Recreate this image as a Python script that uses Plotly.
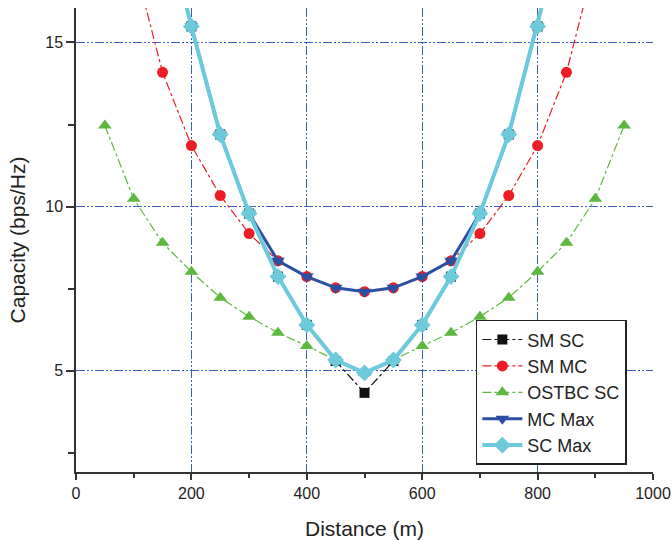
import plotly.graph_objects as go

distance = [50, 100, 150, 200, 250, 300, 350, 400, 450, 500, 550, 600, 650, 700, 750, 800, 850, 900, 950]

sm_sc = [None, None, 19.0, 15.49, 12.2, 9.79, 7.87, 6.40, 5.30, 4.33, 5.30, 6.40, 7.87, 9.79, 12.2, 15.49, 19.0, None, None]
sm_mc = [None, 17.5, 14.09, 11.86, 10.34, 9.18, 8.35, 7.87, 7.53, 7.41, 7.53, 7.87, 8.35, 9.18, 10.34, 11.86, 14.09, 17.5, None]
ostbc_sc = [12.47, 10.24, 8.90, 8.02, 7.23, 6.65, 6.16, 5.76, 5.33, 4.94, 5.33, 5.76, 6.16, 6.65, 7.23, 8.02, 8.90, 10.24, 12.47]
mc_max = [None, None, 19.0, 15.49, 12.2, 9.79, 8.35, 7.87, 7.53, 7.41, 7.53, 7.87, 8.35, 9.79, 12.2, 15.49, 19.0, None, None]
sc_max = [None, None, 19.0, 15.49, 12.2, 9.79, 7.87, 6.40, 5.33, 4.94, 5.33, 6.40, 7.87, 9.79, 12.2, 15.49, 19.0, None, None]

x_ticks = [0, 200, 400, 600, 800, 1000]
y_ticks = [5, 10, 15]

series = [
    ("SM SC", sm_sc, "#111111", 1.2, "dashdot", "square", 10),
    ("SM MC", sm_mc, "#ee1c24", 1.2, "dashdot", "circle", 11),
    ("OSTBC SC", ostbc_sc, "#5cb840", 1.2, "dashdot", "triangle-up", 12),
    ("MC Max", mc_max, "#2a4fa3", 3, "solid", "triangle-down", 12),
    ("SC Max", sc_max, "#6ccadc", 4, "solid", "diamond", 13),
]

fig = go.Figure()
for name, vals, color, w, dash, sym, size in series:
    fig.add_trace(go.Scatter(
        x=distance, y=vals, name=name, mode="lines+markers",
        connectgaps=False,
        line=dict(color=color, width=w, dash=dash),
        marker=dict(symbol=sym, size=size, color=color),
    ))

grid_dash = "9px,2px,2px,2px,2px,2px"
fig.update_layout(
    width=672, height=540,
    margin=dict(l=76, r=19, t=8, b=68),
    paper_bgcolor="white", plot_bgcolor="white",
    font=dict(family="Liberation Sans, Arial, sans-serif", color="#222", size=16),
    showlegend=True,
    legend=dict(
        x=0.693, y=0.328, xanchor="left", yanchor="top",
        bordercolor="#222", borderwidth=1.5, bgcolor="white",
        font=dict(size=18, color="#222"),
        tracegroupgap=0, itemwidth=40,
    ),
)
fig.update_xaxes(
    range=[0, 1000], tickvals=x_ticks, ticktext=[str(v) for v in x_ticks],
    automargin=False,
    showline=True, linecolor="#333", linewidth=1.5,
    ticks="outside", ticklen=6, tickcolor="#333", tickwidth=1.5,
    minor=dict(dtick=100, ticks="outside", ticklen=4, tickcolor="#333", tickwidth=1.5, showgrid=False),
    showgrid=True, gridcolor="#3a5fc0", gridwidth=1.4, griddash=grid_dash,
    zeroline=False,
    title=dict(text="Distance (m)", font=dict(size=21), standoff=20),
    tickfont=dict(size=16),
)
fig.update_yaxes(
    range=[1.92, 16.05], tickvals=y_ticks, ticktext=[str(v) for v in y_ticks],
    automargin=False,
    showline=True, linecolor="#333", linewidth=1.5,
    ticks="outside", ticklen=8, tickcolor="#333", tickwidth=1.5,
    minor=dict(dtick=2.5, tick0=0, ticks="outside", ticklen=6, tickcolor="#333", tickwidth=1.5, showgrid=False),
    showgrid=True, gridcolor="#3a5fc0", gridwidth=1.4, griddash=grid_dash,
    zeroline=False,
    title=dict(text="Capacity (bps/Hz)", font=dict(size=21), standoff=14),
    tickfont=dict(size=16),
)

fig.write_html("out.html", config={"displayModeBar": False},
               post_script="document.body.style.margin='0';")
